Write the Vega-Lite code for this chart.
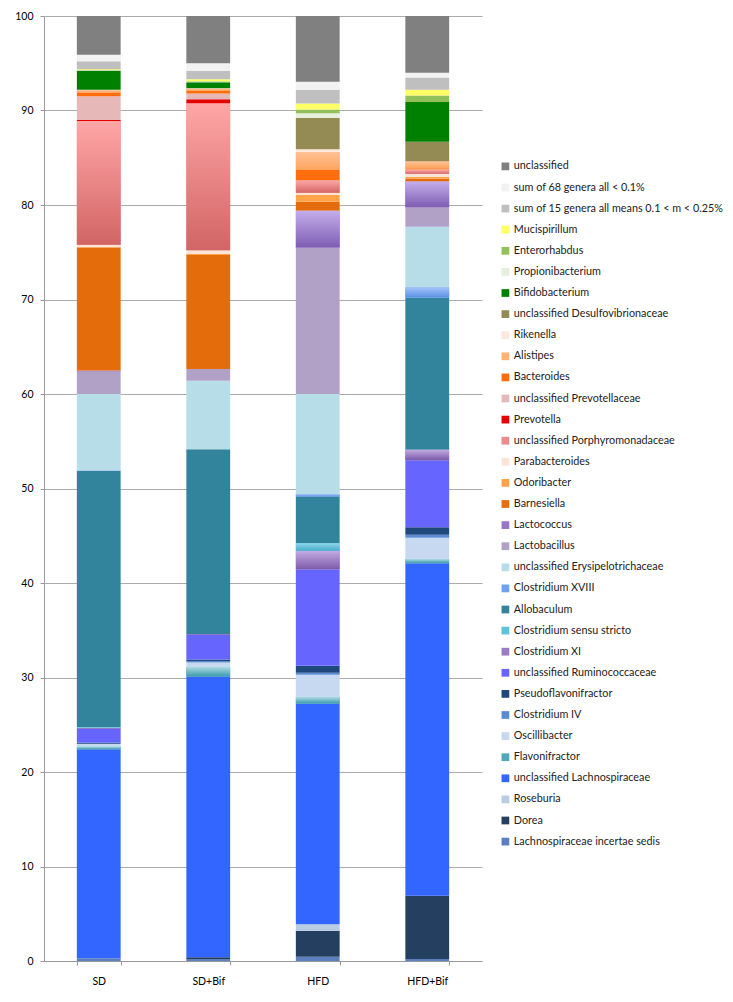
{
  "$schema": "https://vega.github.io/schema/vega-lite/v6.json",
  "autosize": {"type": "none"},
  "width": 438,
  "height": 945,
  "padding": {"left": 44, "top": 16, "right": 251, "bottom": 41},
  "background": "white",
  "config": {
    "view": {"stroke": null},
    "font": "Lato",
    "axis": {"labelFont": "Lato", "labelFontSize": 10.5, "labelColor": "#000000", "domainColor": "#999999", "tickColor": "#999999", "gridColor": "#ABABAB", "gridWidth": 1, "domainWidth": 1, "tickWidth": 1},
    "legend": {"labelFont": "Lato", "labelFontSize": 10.8, "labelColor": "#222222"}
  },
  "data": {
    "values": [
      {"group": "SD", "genus": "Lachnospiraceae incertae sedis", "value": 0.3},
      {"group": "SD", "genus": "unclassified Lachnospiraceae", "value": 22.1},
      {"group": "SD", "genus": "Flavonifractor", "value": 0.3},
      {"group": "SD", "genus": "Oscillibacter", "value": 0.25},
      {"group": "SD", "genus": "Clostridium IV", "value": 0.05},
      {"group": "SD", "genus": "Pseudoflavonifractor", "value": 0.1},
      {"group": "SD", "genus": "unclassified Ruminococcaceae", "value": 1.5},
      {"group": "SD", "genus": "Clostridium XI", "value": 0.05},
      {"group": "SD", "genus": "Clostridium sensu stricto", "value": 0.05},
      {"group": "SD", "genus": "Allobaculum", "value": 27.15},
      {"group": "SD", "genus": "Clostridium XVIII", "value": 0.05},
      {"group": "SD", "genus": "unclassified Erysipelotrichaceae", "value": 8.1},
      {"group": "SD", "genus": "Lactobacillus", "value": 2.4},
      {"group": "SD", "genus": "Lactococcus", "value": 0.05},
      {"group": "SD", "genus": "Barnesiella", "value": 13.05},
      {"group": "SD", "genus": "Odoribacter", "value": 0.05},
      {"group": "SD", "genus": "Parabacteroides", "value": 0.25},
      {"group": "SD", "genus": "unclassified Porphyromonadaceae", "value": 13.1},
      {"group": "SD", "genus": "Prevotella", "value": 0.1},
      {"group": "SD", "genus": "unclassified Prevotellaceae", "value": 2.5},
      {"group": "SD", "genus": "Bacteroides", "value": 0.4},
      {"group": "SD", "genus": "Alistipes", "value": 0.25},
      {"group": "SD", "genus": "Rikenella", "value": 0.05},
      {"group": "SD", "genus": "Bifidobacterium", "value": 2.0},
      {"group": "SD", "genus": "Propionibacterium", "value": 0.05},
      {"group": "SD", "genus": "Enterorhabdus", "value": 0.1},
      {"group": "SD", "genus": "Mucispirillum", "value": 0.05},
      {"group": "SD", "genus": "sum of 15 genera all means 0.1 < m < 0.25%", "value": 0.8},
      {"group": "SD", "genus": "sum of 68 genera all < 0.1%", "value": 0.7},
      {"group": "SD", "genus": "unclassified", "value": 4.1},

      {"group": "SD+Bif", "genus": "Lachnospiraceae incertae sedis", "value": 0.2},
      {"group": "SD+Bif", "genus": "Dorea", "value": 0.2},
      {"group": "SD+Bif", "genus": "unclassified Lachnospiraceae", "value": 29.7},
      {"group": "SD+Bif", "genus": "Flavonifractor", "value": 1.05},
      {"group": "SD+Bif", "genus": "Oscillibacter", "value": 0.45},
      {"group": "SD+Bif", "genus": "Clostridium IV", "value": 0.15},
      {"group": "SD+Bif", "genus": "Pseudoflavonifractor", "value": 0.15},
      {"group": "SD+Bif", "genus": "unclassified Ruminococcaceae", "value": 2.65},
      {"group": "SD+Bif", "genus": "Clostridium XI", "value": 0.05},
      {"group": "SD+Bif", "genus": "Allobaculum", "value": 19.55},
      {"group": "SD+Bif", "genus": "unclassified Erysipelotrichaceae", "value": 7.25},
      {"group": "SD+Bif", "genus": "Lactobacillus", "value": 1.25},
      {"group": "SD+Bif", "genus": "Barnesiella", "value": 12.05},
      {"group": "SD+Bif", "genus": "Odoribacter", "value": 0.15},
      {"group": "SD+Bif", "genus": "Parabacteroides", "value": 0.35},
      {"group": "SD+Bif", "genus": "unclassified Porphyromonadaceae", "value": 15.55},
      {"group": "SD+Bif", "genus": "Prevotella", "value": 0.45},
      {"group": "SD+Bif", "genus": "unclassified Prevotellaceae", "value": 0.6},
      {"group": "SD+Bif", "genus": "Bacteroides", "value": 0.3},
      {"group": "SD+Bif", "genus": "Alistipes", "value": 0.2},
      {"group": "SD+Bif", "genus": "Rikenella", "value": 0.05},
      {"group": "SD+Bif", "genus": "Bifidobacterium", "value": 0.65},
      {"group": "SD+Bif", "genus": "Propionibacterium", "value": 0.05},
      {"group": "SD+Bif", "genus": "Enterorhabdus", "value": 0.05},
      {"group": "SD+Bif", "genus": "Mucispirillum", "value": 0.2},
      {"group": "SD+Bif", "genus": "sum of 15 genera all means 0.1 < m < 0.25%", "value": 0.9},
      {"group": "SD+Bif", "genus": "sum of 68 genera all < 0.1%", "value": 0.8},
      {"group": "SD+Bif", "genus": "unclassified", "value": 5.0},

      {"group": "HFD", "genus": "Lachnospiraceae incertae sedis", "value": 0.45},
      {"group": "HFD", "genus": "Dorea", "value": 2.75},
      {"group": "HFD", "genus": "Roseburia", "value": 0.7},
      {"group": "HFD", "genus": "unclassified Lachnospiraceae", "value": 23.35},
      {"group": "HFD", "genus": "Flavonifractor", "value": 0.7},
      {"group": "HFD", "genus": "Oscillibacter", "value": 2.35},
      {"group": "HFD", "genus": "Clostridium IV", "value": 0.2},
      {"group": "HFD", "genus": "Pseudoflavonifractor", "value": 0.75},
      {"group": "HFD", "genus": "unclassified Ruminococcaceae", "value": 10.2},
      {"group": "HFD", "genus": "Clostridium XI", "value": 1.95},
      {"group": "HFD", "genus": "Clostridium sensu stricto", "value": 0.8},
      {"group": "HFD", "genus": "Allobaculum", "value": 4.95},
      {"group": "HFD", "genus": "Clostridium XVIII", "value": 0.25},
      {"group": "HFD", "genus": "unclassified Erysipelotrichaceae", "value": 10.6},
      {"group": "HFD", "genus": "Lactobacillus", "value": 15.5},
      {"group": "HFD", "genus": "Lactococcus", "value": 3.9},
      {"group": "HFD", "genus": "Barnesiella", "value": 0.95},
      {"group": "HFD", "genus": "Odoribacter", "value": 0.7},
      {"group": "HFD", "genus": "Parabacteroides", "value": 0.25},
      {"group": "HFD", "genus": "unclassified Porphyromonadaceae", "value": 1.3},
      {"group": "HFD", "genus": "Bacteroides", "value": 1.1},
      {"group": "HFD", "genus": "Alistipes", "value": 1.9},
      {"group": "HFD", "genus": "Rikenella", "value": 0.3},
      {"group": "HFD", "genus": "unclassified Desulfovibrionaceae", "value": 3.3},
      {"group": "HFD", "genus": "Propionibacterium", "value": 0.5},
      {"group": "HFD", "genus": "Enterorhabdus", "value": 0.4},
      {"group": "HFD", "genus": "Mucispirillum", "value": 0.65},
      {"group": "HFD", "genus": "sum of 15 genera all means 0.1 < m < 0.25%", "value": 1.45},
      {"group": "HFD", "genus": "sum of 68 genera all < 0.1%", "value": 0.85},
      {"group": "HFD", "genus": "unclassified", "value": 6.95},

      {"group": "HFD+Bif", "genus": "Lachnospiraceae incertae sedis", "value": 0.2},
      {"group": "HFD+Bif", "genus": "Dorea", "value": 6.7},
      {"group": "HFD+Bif", "genus": "unclassified Lachnospiraceae", "value": 35.2},
      {"group": "HFD+Bif", "genus": "Flavonifractor", "value": 0.45},
      {"group": "HFD+Bif", "genus": "Oscillibacter", "value": 2.25},
      {"group": "HFD+Bif", "genus": "Clostridium IV", "value": 0.3},
      {"group": "HFD+Bif", "genus": "Pseudoflavonifractor", "value": 0.8},
      {"group": "HFD+Bif", "genus": "unclassified Ruminococcaceae", "value": 7.1},
      {"group": "HFD+Bif", "genus": "Clostridium XI", "value": 1.1},
      {"group": "HFD+Bif", "genus": "Allobaculum", "value": 16.1},
      {"group": "HFD+Bif", "genus": "Clostridium XVIII", "value": 1.1},
      {"group": "HFD+Bif", "genus": "unclassified Erysipelotrichaceae", "value": 6.4},
      {"group": "HFD+Bif", "genus": "Lactobacillus", "value": 2.05},
      {"group": "HFD+Bif", "genus": "Lactococcus", "value": 2.75},
      {"group": "HFD+Bif", "genus": "Barnesiella", "value": 0.3},
      {"group": "HFD+Bif", "genus": "Odoribacter", "value": 0.2},
      {"group": "HFD+Bif", "genus": "Parabacteroides", "value": 0.3},
      {"group": "HFD+Bif", "genus": "unclassified Porphyromonadaceae", "value": 0.4},
      {"group": "HFD+Bif", "genus": "unclassified Prevotellaceae", "value": 0.05},
      {"group": "HFD+Bif", "genus": "Bacteroides", "value": 0.15},
      {"group": "HFD+Bif", "genus": "Alistipes", "value": 0.7},
      {"group": "HFD+Bif", "genus": "unclassified Desulfovibrionaceae", "value": 2.1},
      {"group": "HFD+Bif", "genus": "Bifidobacterium", "value": 4.2},
      {"group": "HFD+Bif", "genus": "Enterorhabdus", "value": 0.7},
      {"group": "HFD+Bif", "genus": "Mucispirillum", "value": 0.6},
      {"group": "HFD+Bif", "genus": "sum of 15 genera all means 0.1 < m < 0.25%", "value": 1.3},
      {"group": "HFD+Bif", "genus": "sum of 68 genera all < 0.1%", "value": 0.5},
      {"group": "HFD+Bif", "genus": "unclassified", "value": 6.0}
    ]
  },
  "transform": [
    {"calculate": "indexof(['unclassified', 'sum of 68 genera all < 0.1%', 'sum of 15 genera all means 0.1 < m < 0.25%', 'Mucispirillum', 'Enterorhabdus', 'Propionibacterium', 'Bifidobacterium', 'unclassified Desulfovibrionaceae', 'Rikenella', 'Alistipes', 'Bacteroides', 'unclassified Prevotellaceae', 'Prevotella', 'unclassified Porphyromonadaceae', 'Parabacteroides', 'Odoribacter', 'Barnesiella', 'Lactococcus', 'Lactobacillus', 'unclassified Erysipelotrichaceae', 'Clostridium XVIII', 'Allobaculum', 'Clostridium sensu stricto', 'Clostridium XI', 'unclassified Ruminococcaceae', 'Pseudoflavonifractor', 'Clostridium IV', 'Oscillibacter', 'Flavonifractor', 'unclassified Lachnospiraceae', 'Roseburia', 'Dorea', 'Lachnospiraceae incertae sedis'], datum.genus)", "as": "rank"},
    {"stack": "value", "groupby": ["group"], "sort": [{"field": "rank", "order": "descending"}], "as": ["v0", "v1"]}
  ],
  "encoding": {
    "x": {
      "field": "group", "type": "nominal",
      "sort": ["SD", "SD+Bif", "HFD", "HFD+Bif"],
      "scale": {"paddingInner": 0.6, "paddingOuter": 0.3},
      "axis": {"title": null, "labelAngle": 0, "tickBand": "extent", "tickSize": 4, "labelPadding": 11, "grid": false}
    },
    "y": {
      "field": "v1", "type": "quantitative",
      "scale": {"domain": [0, 100], "nice": false},
      "axis": {"title": null, "values": [0, 10, 20, 30, 40, 50, 60, 70, 80, 90, 100], "tickSize": 4, "labelPadding": 7, "grid": true}
    },
    "y2": {"field": "v0"}
  },
  "layer": [
    {
      "mark": {"type": "bar"},
      "encoding": {
        "color": {
          "field": "genus", "type": "nominal",
          "scale": {
            "domain": ["unclassified", "sum of 68 genera all < 0.1%", "sum of 15 genera all means 0.1 < m < 0.25%", "Mucispirillum", "Enterorhabdus", "Propionibacterium", "Bifidobacterium", "unclassified Desulfovibrionaceae", "Rikenella", "Alistipes", "Bacteroides", "unclassified Prevotellaceae", "Prevotella", "unclassified Porphyromonadaceae", "Parabacteroides", "Odoribacter", "Barnesiella", "Lactococcus", "Lactobacillus", "unclassified Erysipelotrichaceae", "Clostridium XVIII", "Allobaculum", "Clostridium sensu stricto", "Clostridium XI", "unclassified Ruminococcaceae", "Pseudoflavonifractor", "Clostridium IV", "Oscillibacter", "Flavonifractor", "unclassified Lachnospiraceae", "Roseburia", "Dorea", "Lachnospiraceae incertae sedis"],
            "range": ["#808080", "#F2F2F2", "#BFBFBF", "#FFFF66", "#92C05A", "#E6EEDC", "#008000", "#948A54", "#FCE9DC", "#FFB272", "#FF6D0D", "#E6B8B7", "#E60000", "#EC8A89", "#FCE4D6", "#FFA34A", "#E46C0A", "#9878C6", "#B2A1C7", "#B7DDE8", "#6FA3EE", "#31849B", "#5BC3DC", "#9B7CC3", "#6666FF", "#1F487C", "#5C8BD6", "#C6D9F1", "#4FA9BC", "#3366FF", "#B8CCE4", "#243F60", "#5B7FBF"]
          },
          "legend": {"title": null, "orient": "none", "legendX": 456, "legendY": 145, "symbolType": "square", "symbolSize": 60, "symbolStrokeWidth": 0, "symbolLimit": 0, "rowPadding": 9.1, "labelOffset": 3, "labelLimit": 260}
        }
      }
    },
    {
      "transform": [{"filter": "datum.genus == 'unclassified Porphyromonadaceae'"}],
      "mark": {"type": "bar", "color": {"gradient": "linear", "x1": 0, "y1": 0, "x2": 0, "y2": 1, "stops": [{"offset": 0, "color": "#FFA6A6"}, {"offset": 1, "color": "#D26565"}]}}
    },
    {
      "transform": [{"filter": "datum.genus == 'Lactococcus'"}],
      "mark": {"type": "bar", "color": {"gradient": "linear", "x1": 0, "y1": 0, "x2": 0, "y2": 1, "stops": [{"offset": 0, "color": "#C4AEEA"}, {"offset": 1, "color": "#7E5DB2"}]}}
    },
    {
      "transform": [{"filter": "datum.genus == 'Clostridium XI'"}],
      "mark": {"type": "bar", "color": {"gradient": "linear", "x1": 0, "y1": 0, "x2": 0, "y2": 1, "stops": [{"offset": 0, "color": "#C2ABE2"}, {"offset": 1, "color": "#7C5AA8"}]}}
    },
    {
      "transform": [{"filter": "datum.genus == 'Alistipes'"}],
      "mark": {"type": "bar", "color": {"gradient": "linear", "x1": 0, "y1": 0, "x2": 0, "y2": 1, "stops": [{"offset": 0, "color": "#FFC295"}, {"offset": 1, "color": "#FFA35C"}]}}
    },
    {
      "transform": [{"filter": "datum.genus == 'Clostridium XVIII'"}],
      "mark": {"type": "bar", "color": {"gradient": "linear", "x1": 0, "y1": 0, "x2": 0, "y2": 1, "stops": [{"offset": 0, "color": "#A3C4F7"}, {"offset": 1, "color": "#5A8FE6"}]}}
    },
    {
      "transform": [{"filter": "datum.genus == 'Clostridium sensu stricto'"}],
      "mark": {"type": "bar", "color": {"gradient": "linear", "x1": 0, "y1": 0, "x2": 0, "y2": 1, "stops": [{"offset": 0, "color": "#8DD6EA"}, {"offset": 1, "color": "#45ADCB"}]}}
    },
    {
      "transform": [{"filter": "datum.genus == 'Flavonifractor'"}],
      "mark": {"type": "bar", "color": {"gradient": "linear", "x1": 0, "y1": 0, "x2": 0, "y2": 1, "stops": [{"offset": 0, "color": "#B0DCE4"}, {"offset": 1, "color": "#3A9AAE"}]}}
    }
  ]
}
